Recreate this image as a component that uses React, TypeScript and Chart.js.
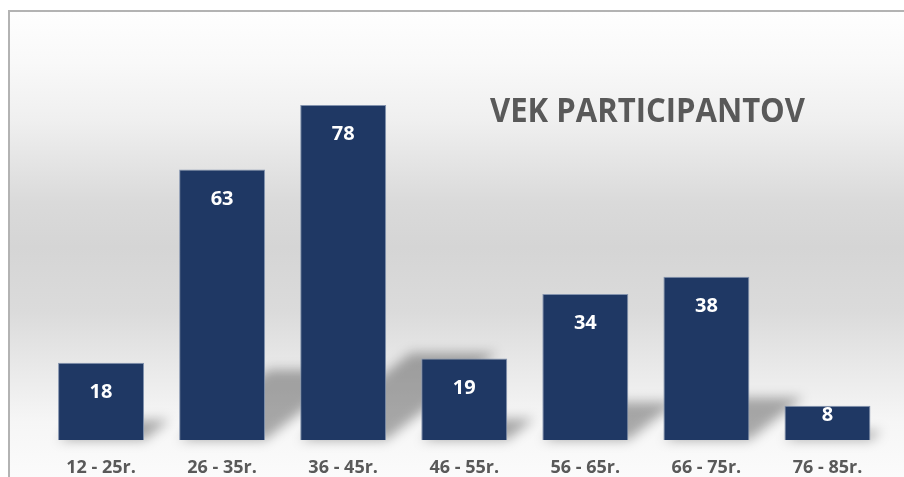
import React, { useEffect, useRef } from "react";
import { Chart, registerables } from "chart.js";

Chart.register(...registerables);

const categories = ["12 - 25r.", "26 - 35r.", "36 - 45r.", "46 - 55r.", "56 - 65r.", "66 - 75r.", "76 - 85r."];
const values = [18, 63, 78, 19, 34, 38, 8];
const titleText = "VEK PARTICIPANTOV";

const FONT = "'Open Sans', 'Liberation Sans', sans-serif";

const shadowPlugin = {
  id: "barShadow",
  beforeDatasetsDraw(chart: any) {
    const ctx = chart.ctx;
    const meta = chart.getDatasetMeta(0);
    ctx.save();
    ctx.filter = "blur(6px)";
    ctx.fillStyle = "rgba(0,0,0,0.32)";
    meta.data.forEach((bar: any) => {
      const { x, y, base, width } = bar.getProps(["x", "y", "base", "width"], true);
      const h = base - y;
      const rise = 0.26 * h;
      const shift = 0.33 * h;
      const l = x - width / 2;
      const r = x + width / 2;
      ctx.beginPath();
      ctx.moveTo(l, base);
      ctx.lineTo(r, base);
      ctx.lineTo(r + shift, base - rise);
      ctx.lineTo(l + shift, base - rise);
      ctx.closePath();
      ctx.fill();
    });
    ctx.restore();
  },
};

const labelPlugin = {
  id: "barLabels",
  afterDatasetsDraw(chart: any) {
    const ctx = chart.ctx;
    const meta = chart.getDatasetMeta(0);
    const data = chart.data.datasets[0].data;
    ctx.save();
    ctx.fillStyle = "#ffffff";
    ctx.font = `bold 20px ${FONT}`;
    ctx.textAlign = "center";
    ctx.textBaseline = "middle";
    meta.data.forEach((bar: any, i: number) => {
      const { x, y, base } = bar.getProps(["x", "y", "base"], true);
      const ty = Math.min(y + 29.5, base - 24.5);
      ctx.fillText(String(data[i]), x, ty);
    });
    ctx.restore();
  },
};

const titlePlugin = {
  id: "insideTitle",
  afterDraw(chart: any) {
    const ctx = chart.ctx;
    ctx.save();
    ctx.font = `bold 34px ${FONT}`;
    ctx.fillStyle = "#595959";
    ctx.textBaseline = "alphabetic";
    ctx.textAlign = "left";
    const w = ctx.measureText(titleText).width;
    const target = 315;
    ctx.translate(480, 110);
    ctx.scale(target / w, 1);
    ctx.fillText(titleText, 0, 0);
    ctx.restore();
  },
};

export default function App() {
  const ref = useRef<HTMLCanvasElement | null>(null);

  useEffect(() => {
    if (!ref.current) return;
    const chart = new Chart(ref.current, {
      type: "bar",
      data: {
        labels: categories,
        datasets: [
          {
            data: values,
            backgroundColor: "#1f3864",
            borderColor: "#8393ae",
            borderWidth: 1,
            barPercentage: 0.71,
            categoryPercentage: 1,
          },
        ],
      },
      options: {
        animation: false,
        responsive: false,
        layout: { padding: { left: 30.5, right: 16, top: 41.5, bottom: 0 } },
        plugins: {
          legend: { display: false },
          tooltip: { enabled: false },
          title: { display: false },
        },
        scales: {
          x: {
            grid: { display: false },
            border: { display: false },
            afterFit(scale: any) {
              scale.height = 37;
            },
            ticks: {
              color: "#595959",
              font: { family: FONT, size: 18, weight: "bold" },
              padding: 9,
              maxRotation: 0,
            },
          },
          y: {
            display: false,
            min: 0,
            max: 90,
          },
        },
      },
      plugins: [shadowPlugin, labelPlugin, titlePlugin],
    });
    return () => chart.destroy();
  }, []);

  return (
    <div
      style={{
        position: "absolute",
        left: 8,
        top: 10,
        width: 896,
        height: 467,
        boxSizing: "border-box",
        borderTop: "2px solid #b3b3b3",
        borderLeft: "2px solid #b3b3b3",
        overflow: "hidden",
        background:
          "linear-gradient(to bottom, #fefefe 0px, #f9f9f9 50px, #efefef 110px, #dadada 190px, #d5d5d5 235px, #dbdbdb 300px, #eaeaea 360px, #f6f6f6 410px, #fbfbfb 465px)",
      }}
    >
      <canvas ref={ref} width={894} height={465} style={{ display: "block" }} />
    </div>
  );
}
